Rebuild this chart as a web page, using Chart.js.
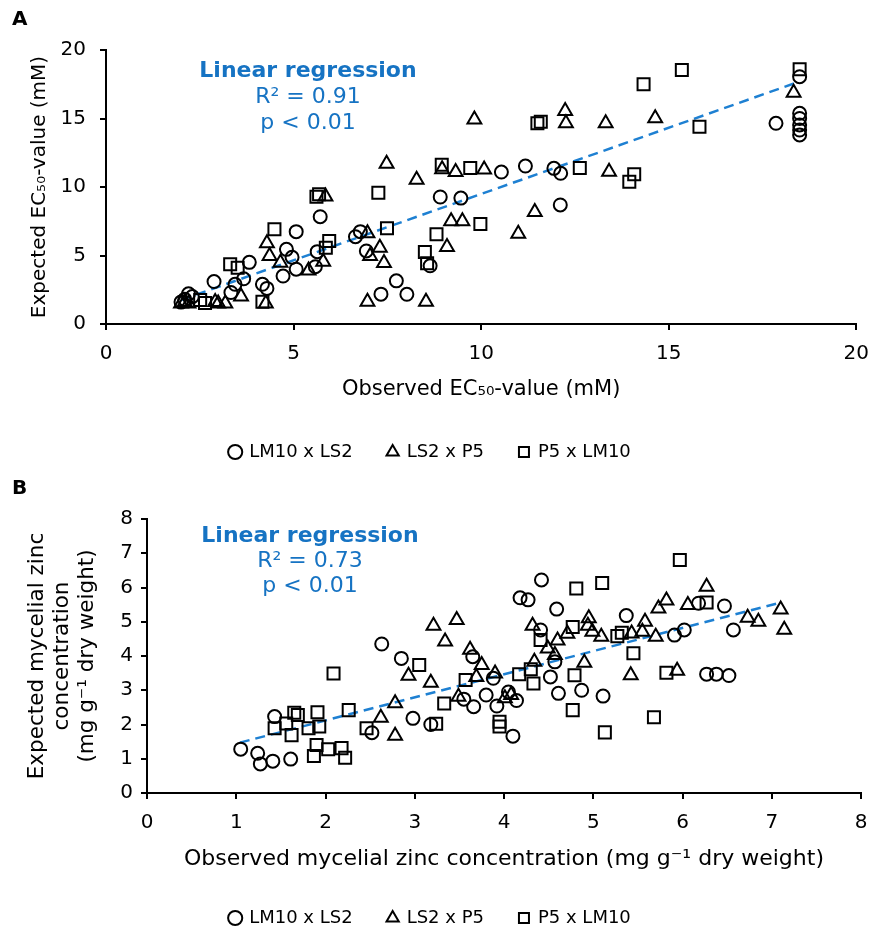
<!DOCTYPE html>
<html>
<head>
<meta charset="utf-8">
<script src="https://cdn.jsdelivr.net/npm/chart.js@4.4.1/dist/chart.umd.min.js"></script>
<style>
  body { margin: 0; background: #fff; overflow: hidden; }
  .panel { position: absolute; left: 0; }
  #wrapA { top: 0; width: 881px; height: 472px; }
  #wrapB { top: 470px; width: 880px; height: 469px; }
  .tag { position: absolute; left: 12px; font: bold 20px "DejaVu Sans", sans-serif; line-height: 22px; color: #000; }
</style>
</head>
<body>
<div class="panel" id="wrapA"><canvas id="chartA"></canvas></div>
<div class="panel" id="wrapB"><canvas id="chartB"></canvas></div>
<div class="tag" style="top:7px">A</div>
<div class="tag" style="top:476px">B</div>
<script>
// series names
const seriesNames = ["LM10 x LS2", "LS2 x P5", "P5 x LM10"];

// Panel A: EC50 values (mM), observed (x) vs expected (y)
const aLM10LS2_x = [2.0, 2.1, 2.2, 2.3, 2.88, 3.33, 3.44, 3.67, 3.82, 4.17, 4.29, 4.72, 4.81, 4.96, 5.07, 5.07, 5.58, 5.63, 5.71, 6.65, 6.78, 6.94, 7.33, 7.74, 8.02, 8.64, 8.91, 9.46, 10.54, 11.18, 11.94, 12.12, 12.11, 17.86, 18.49, 18.49, 18.49, 18.49, 18.49, 18.49];
const aLM10LS2_y = [1.6, 1.8, 2.2, 2.0, 3.1, 2.3, 2.9, 3.3, 4.5, 2.9, 2.6, 3.5, 5.45, 4.87, 4.0, 6.74, 4.18, 5.28, 7.83, 6.37, 6.74, 5.33, 2.18, 3.15, 2.17, 4.25, 9.27, 9.19, 11.09, 11.53, 11.36, 11.0, 8.69, 14.65, 18.05, 15.38, 15.0, 14.53, 14.16, 13.8];

const aLS2P5_x = [2.0, 2.1, 2.2, 2.91, 2.99, 3.18, 3.6, 4.26, 4.29, 4.36, 4.65, 5.4, 5.79, 5.85, 6.97, 7.3, 7.04, 7.41, 6.97, 7.48, 8.28, 8.53, 9.09, 9.2, 9.5, 8.96, 9.32, 10.08, 9.82, 10.99, 11.43, 12.24, 12.26, 13.32, 13.41, 14.64, 18.33];
const aLS2P5_y = [1.5, 1.6, 1.5, 1.6, 1.5, 1.5, 2.0, 1.5, 5.89, 4.96, 4.47, 3.9, 4.55, 9.3, 6.62, 5.57, 4.96, 4.45, 1.63, 11.7, 10.53, 1.63, 5.62, 7.5, 7.5, 11.3, 11.1, 11.27, 14.93, 6.58, 8.17, 15.55, 14.65, 14.65, 11.12, 15.01, 16.88];

const aP5LM10_x = [2.51, 2.64, 3.31, 3.51, 4.17, 4.49, 5.61, 5.68, 5.86, 5.95, 7.26, 7.49, 8.5, 8.56, 8.81, 8.95, 9.71, 9.98, 11.5, 11.59, 12.63, 13.95, 14.08, 14.33, 15.35, 15.82, 18.49];
const aP5LM10_y = [1.75, 1.53, 4.36, 4.11, 1.63, 6.91, 9.29, 9.47, 5.57, 6.06, 9.58, 6.99, 5.26, 4.43, 6.55, 11.63, 11.39, 7.3, 14.65, 14.77, 11.39, 10.39, 10.93, 17.5, 18.54, 14.4, 18.6];

// Panel A regression line (end points)
const aFit_x = [2.0, 18.49];
const aFit_y = [1.75, 17.7];

// Panel B: mycelial zinc concentration (mg g-1 dry weight)
const bLM10LS2_x = [1.05, 1.24, 1.27, 1.41, 1.61, 1.43, 2.52, 2.98, 3.18, 2.63, 2.85, 3.55, 3.66, 3.8, 3.92, 3.65, 3.88, 4.05, 4.14, 4.1, 4.42, 4.18, 4.27, 4.59, 4.41, 4.57, 4.52, 4.61, 4.87, 5.11, 5.37, 5.91, 6.02, 6.18, 6.47, 6.57, 6.27, 6.38, 6.52];
const bLM10LS2_y = [1.28, 1.16, 0.85, 0.93, 0.99, 2.23, 1.76, 2.18, 2.0, 4.35, 3.93, 2.74, 2.52, 2.86, 2.54, 3.98, 3.35, 2.95, 2.7, 1.66, 6.22, 5.7, 5.64, 5.37, 4.76, 3.83, 3.39, 2.91, 3.0, 2.83, 5.18, 4.61, 4.76, 5.54, 5.46, 4.76, 3.47, 3.47, 3.43];

const bLS2P5_x = [2.62, 2.78, 2.78, 2.93, 3.18, 3.21, 3.47, 3.34, 3.62, 3.75, 3.69, 3.9, 3.49, 4.01, 4.08, 4.34, 4.32, 4.49, 4.6, 4.57, 4.71, 4.9, 4.95, 4.94, 4.99, 5.09, 5.42, 5.43, 5.55, 5.58, 5.7, 5.73, 5.82, 6.06, 6.27, 5.94, 6.73, 6.85, 7.1, 7.14];
const bLS2P5_y = [2.2, 1.67, 2.62, 3.42, 3.22, 4.88, 5.05, 4.42, 4.18, 3.74, 3.39, 3.49, 2.81, 2.77, 2.86, 3.83, 4.88, 4.22, 4.45, 4.03, 4.65, 3.8, 5.1, 4.88, 4.71, 4.56, 3.44, 4.66, 4.71, 5.0, 4.56, 5.39, 5.62, 5.49, 6.02, 3.57, 5.12, 5.0, 5.36, 4.77];

const bP5LM10_x = [1.43, 1.56, 1.62, 1.65, 1.69, 1.81, 1.91, 1.93, 1.9, 1.87, 2.03, 2.18, 2.22, 2.09, 2.26, 2.46, 3.24, 3.05, 3.33, 3.57, 3.95, 3.95, 4.17, 4.3, 4.33, 4.41, 4.77, 4.81, 5.1, 4.79, 4.77, 5.13, 5.32, 5.27, 5.45, 5.82, 5.97, 6.27, 5.68];
const bP5LM10_y = [1.89, 2.03, 1.69, 2.34, 2.28, 1.89, 2.36, 1.94, 1.4, 1.08, 1.28, 1.31, 1.03, 3.49, 2.42, 1.89, 2.02, 3.74, 2.61, 3.3, 2.08, 1.94, 3.47, 3.61, 3.2, 4.47, 4.85, 5.97, 6.13, 3.44, 2.42, 1.77, 4.68, 4.58, 4.08, 3.51, 6.8, 5.56, 2.21];

// Panel B regression line
const bFit_x = [1.04, 7.07];
const bFit_y = [1.47, 5.54];

const FONT = '"DejaVu Sans", Verdana, sans-serif';
const BLUE_TEXT = '#1673C3';
const BLUE_LINE = '#1E80D2';

const pts = (xs, ys) => xs.map((x, i) => ({ x: x, y: ys[i] }));

// blue regression note
const regNote = {
  id: 'regNote',
  afterDatasetsDraw(chart, args, opts) {
    const ctx = chart.ctx;
    ctx.save();
    ctx.fillStyle = BLUE_TEXT;
    ctx.textAlign = 'center';
    ctx.textBaseline = 'middle';
    ctx.font = 'bold 22px ' + FONT;
    ctx.fillText(opts.lines[0], opts.x, opts.y);
    ctx.font = '22px ' + FONT;
    ctx.fillText(opts.lines[1], opts.x, opts.y + opts.gap);
    ctx.fillText(opts.lines[2], opts.x, opts.y + 2 * opts.gap);
    ctx.restore();
  }
};

function drawPanel(id, series, fit, cfg) {
  const ctx = document.getElementById(id).getContext('2d');
  const styles = ['circle', 'triangle', 'rect'];
  const radii = [6.5, 8, 8.5];
  const datasets = series.map((s, i) => ({
    label: seriesNames[i],
    data: pts(s[0], s[1]),
    pointStyle: styles[i],
    pointRadius: radii[i],
    pointHoverRadius: radii[i],
    borderColor: '#000',
    backgroundColor: 'rgba(255,255,255,0)',
    borderWidth: 2,
    order: 1
  }));
  datasets.push({
    type: 'line',
    label: 'fit',
    data: pts(fit[0], fit[1]),
    borderColor: BLUE_LINE,
    borderWidth: 2.5,
    borderDash: [10, 6],
    pointRadius: 0,
    fill: false,
    order: 2
  });

  const axisCommon = {
    grid: { display: true, drawOnChartArea: false, drawTicks: true, tickLength: 6, color: '#000', lineWidth: 2 },
    border: { display: true, color: '#000', width: 2 }
  };

  new Chart(ctx, {
    type: 'scatter',
    data: { datasets: datasets },
    options: {
      responsive: true,
      maintainAspectRatio: false,
      animation: false,
      layout: { padding: cfg.pad },
      plugins: {
        tooltip: { enabled: false },
        legend: {
          position: 'bottom',
          labels: {
            usePointStyle: true,
            boxWidth: 10,
            boxHeight: 10,
            padding: 35,
            color: '#000',
            font: { family: FONT, size: 18 },
            filter: item => item.datasetIndex < 3
          }
        },
        regNote: cfg.note
      },
      scales: {
        x: {
          type: 'linear',
          min: 0, max: cfg.max, ...axisCommon,
          ticks: { stepSize: cfg.step, color: '#000', padding: 12, font: { family: FONT, size: 20 } },
          title: { display: true, text: cfg.xTitle, color: '#000', font: { family: FONT, size: cfg.xTitleSize }, padding: { top: 0, bottom: cfg.xTitlePad } },
          afterFit: scale => {
            const c = scale.chart;
            scale.height = c.height - cfg.pad.bottom - c.legend.height - cfg.areaBottom;
          }
        },
        y: {
          type: 'linear',
          min: 0, max: cfg.max, ...axisCommon,
          ticks: { stepSize: cfg.step, color: '#000', padding: cfg.yTickPad, font: { family: FONT, size: 20 } },
          title: { display: true, text: cfg.yTitle, color: '#000', font: { family: FONT, size: cfg.yTitleSize, lineHeight: '25px' }, padding: { top: cfg.yTitlePad, bottom: 0 } },
          afterFit: scale => { scale.width = cfg.areaLeft - cfg.pad.left; }
        }
      }
    },
    plugins: [regNote]
  });
}

drawPanel('chartA',
  [[aLM10LS2_x, aLM10LS2_y], [aLS2P5_x, aLS2P5_y], [aP5LM10_x, aP5LM10_y]],
  [aFit_x, aFit_y],
  {
    max: 20, step: 5,
    pad: { top: 50, right: 20, bottom: 1, left: 0 },
    areaLeft: 106, areaBottom: 324,
    xTitle: 'Observed EC₅₀-value (mM)',
    yTitle: 'Expected EC₅₀-value (mM)',
    xTitleSize: 21, yTitleSize: 20,
    xTitlePad: 6, yTitlePad: 27.5, yTickPad: 14,
    note: { x: 308, y: 71, gap: 26, lines: ['Linear regression', 'R² = 0.91', 'p < 0.01'] }
  });

drawPanel('chartB',
  [[bLM10LS2_x, bLM10LS2_y], [bLS2P5_x, bLS2P5_y], [bP5LM10_x, bP5LM10_y]],
  [bFit_x, bFit_y],
  {
    max: 8, step: 1,
    pad: { top: 49, right: 19, bottom: 2, left: 0 },
    areaLeft: 147, areaBottom: 323,
    xTitle: 'Observed mycelial zinc concentration (mg g⁻¹ dry weight)',
    yTitle: ['Expected mycelial zinc', 'concentration', '(mg g⁻¹ dry weight)'],
    xTitleSize: 22, yTitleSize: 21.5,
    xTitlePad: 1.4, yTitlePad: 24.5, yTickPad: 8,
    note: { x: 310, y: 66, gap: 25, lines: ['Linear regression', 'R² = 0.73', 'p < 0.01'] }
  });
</script>
</body>
</html>
